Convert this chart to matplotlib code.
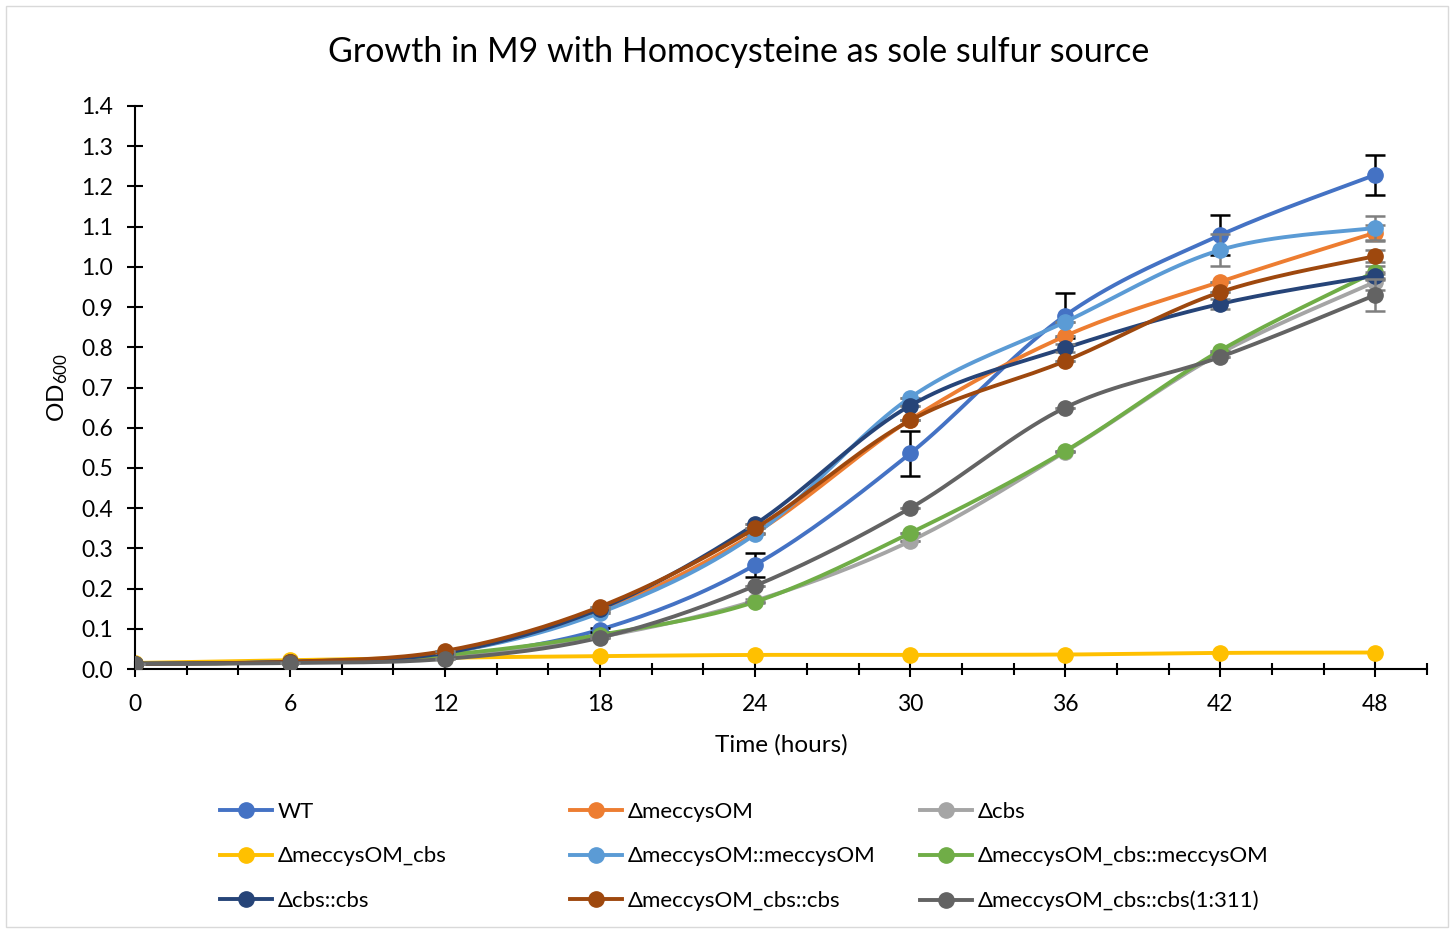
import numpy as np
import matplotlib
matplotlib.use('Agg')
import matplotlib.pyplot as plt
from matplotlib.patches import Rectangle

plt.rcParams['font.family'] = ['Lato', 'DejaVu Sans']

# data
hours = [0, 6, 12, 18, 24, 30, 36, 42, 48]

names = ['WT', 'ΔmeccysOM', 'Δcbs', 'ΔmeccysOM_cbs', 'ΔmeccysOM::meccysOM',
         'ΔmeccysOM_cbs::meccysOM', 'Δcbs::cbs', 'ΔmeccysOM_cbs::cbs',
         'ΔmeccysOM_cbs::cbs(1:311)']

wt = [0.013, 0.018, 0.030, 0.098, 0.259, 0.536, 0.879, 1.079, 1.229]
meccysOM = [0.013, 0.020, 0.040, 0.145, 0.338, 0.620, 0.828, 0.963, 1.085]
cbs = [0.013, 0.018, 0.030, 0.080, 0.170, 0.318, 0.540, 0.785, 0.963]
meccysOM_cbs = [0.015, 0.022, 0.028, 0.032, 0.035, 0.035, 0.036, 0.040, 0.041]
meccysOM_comp = [0.013, 0.018, 0.040, 0.140, 0.335, 0.675, 0.863, 1.042, 1.097]
meccysOM_cbs_comp = [0.013, 0.017, 0.035, 0.085, 0.167, 0.338, 0.542, 0.792, 0.988]
cbs_comp = [0.013, 0.018, 0.040, 0.150, 0.360, 0.655, 0.798, 0.908, 0.978]
meccysOM_cbs_cbs = [0.013, 0.018, 0.045, 0.155, 0.350, 0.618, 0.766, 0.937, 1.027]
meccysOM_cbs_cbs311 = [0.013, 0.015, 0.025, 0.078, 0.207, 0.400, 0.650, 0.776, 0.930]

wt_err = [0.0, 0.0, 0.0, 0.005, 0.030, 0.055, 0.057, 0.050, 0.050]
meccysOM_err = [0.0, 0.0, 0.0, 0.0, 0.0, 0.0, 0.0, 0.0, 0.020]
cbs_err = [0.0, 0.0, 0.0, 0.0, 0.005, 0.0, 0.0, 0.0, 0.020]
meccysOM_cbs_err = [0.0, 0.0, 0.0, 0.0, 0.0, 0.0, 0.0, 0.0, 0.0]
meccysOM_comp_err = [0.0, 0.0, 0.0, 0.0, 0.0, 0.0, 0.0, 0.040, 0.030]
meccysOM_cbs_comp_err = [0.0, 0.0, 0.0, 0.0, 0.0, 0.0, 0.0, 0.0, 0.015]
cbs_comp_err = [0.0, 0.0, 0.0, 0.0, 0.0, 0.0, 0.010, 0.012, 0.010]
meccysOM_cbs_cbs_err = [0.0, 0.0, 0.0, 0.0, 0.0, 0.0, 0.0, 0.0, 0.015]
meccysOM_cbs_cbs311_err = [0.0, 0.0, 0.0, 0.0, 0.0, 0.0, 0.0, 0.0, 0.040]

series = [wt, meccysOM, cbs, meccysOM_cbs, meccysOM_comp,
          meccysOM_cbs_comp, cbs_comp, meccysOM_cbs_cbs, meccysOM_cbs_cbs311]
errors = [wt_err, meccysOM_err, cbs_err, meccysOM_cbs_err, meccysOM_comp_err,
          meccysOM_cbs_comp_err, cbs_comp_err, meccysOM_cbs_cbs_err,
          meccysOM_cbs_cbs311_err]
colors = ['#4472c4', '#ed7d31', '#a5a5a5', '#ffc000', '#5b9bd5',
          '#70ad47', '#264478', '#9e480e', '#636363']
err_colors = ['black'] + ['#7f7f7f'] * 8


def smooth(x, y, n=20):
    # catmull-rom curve through the points, like excel's smoothed line
    x = np.asarray(x, float)
    y = np.asarray(y, float)
    px = np.concatenate([[x[0]], x, [x[-1]]])
    py = np.concatenate([[y[0]], y, [y[-1]]])
    xs, ys = [], []
    t = np.linspace(0, 1, n)
    for i in range(1, len(px) - 2):
        p0, p1, p2, p3 = (px[i-1], py[i-1]), (px[i], py[i]), (px[i+1], py[i+1]), (px[i+2], py[i+2])
        c1 = (p1[0] + (p2[0] - p0[0]) / 6, p1[1] + (p2[1] - p0[1]) / 6)
        c2 = (p2[0] - (p3[0] - p1[0]) / 6, p2[1] - (p3[1] - p1[1]) / 6)
        bx = (1-t)**3*p1[0] + 3*(1-t)**2*t*c1[0] + 3*(1-t)*t**2*c2[0] + t**3*p2[0]
        by = (1-t)**3*p1[1] + 3*(1-t)**2*t*c1[1] + 3*(1-t)*t**2*c2[1] + t**3*p2[1]
        xs.extend(bx)
        ys.extend(by)
    return np.array(xs), np.array(ys)


fig = plt.figure(figsize=(14.54, 9.31), dpi=100)
ax = fig.add_axes([135/1454, 1 - 669/931, (1427-135)/1454, (669-106)/931])

handles = []
for i in range(len(series)):
    sx, sy = smooth(hours, series[i])
    ax.plot(sx, sy, color=colors[i], lw=2.8, zorder=2+i*0.1, solid_capstyle='round')
    e = np.array(errors[i])
    if e.max() > 0:
        ax.errorbar(hours, series[i], yerr=e, fmt='none', ecolor=err_colors[i],
                    elinewidth=1.8, capsize=7, capthick=1.8, zorder=2+i*0.1)
    ax.plot(hours, series[i], 'o', color=colors[i], ms=11, zorder=2.05+i*0.1)
    h, = plt.plot([], [], '-o', color=colors[i], lw=2.8, ms=11)
    handles.append(h)

ax.set_xlim(0, 50)
ax.set_ylim(0, 1.4)
ax.set_xticks(np.arange(0, 49, 6))
ax.set_xticks(np.arange(0, 51, 2), minor=True)
ax.set_yticks(np.arange(0, 1.41, 0.1))
ax.set_yticklabels(['%.1f' % v for v in np.arange(0, 1.41, 0.1)])
ax.tick_params(axis='both', which='major', direction='inout', length=12, width=1.5,
               labelsize=16.5, colors='black')
ax.tick_params(axis='x', which='minor', direction='inout', length=8, width=1.5)
ax.tick_params(axis='x', pad=12)
ax.tick_params(axis='y', pad=10)
for s in ['top', 'right']:
    ax.spines[s].set_visible(False)
for s in ['left', 'bottom']:
    ax.spines[s].set_linewidth(1.5)

ax.set_xlabel('Time (hours)', fontsize=17.5, labelpad=14)
ax.set_ylabel(r'$\mathregular{OD_{600}}$', fontsize=17.5, labelpad=8)
fig.text(0.508, 0.944, 'Growth in M9 with Homocysteine as sole sulfur source',
         ha='center', va='center', fontsize=24.5)

# one legend per column so each column starts where it does in the chart
col_x = [220, 570, 920]
for c in range(3):
    idx = [c, c + 3, c + 6]
    leg = fig.legend([handles[k] for k in idx], [names[k] for k in idx],
                     loc='upper left', bbox_to_anchor=(col_x[c] / 1454, 1 - 802 / 931),
                     frameon=False, fontsize=16, handlelength=2.35,
                     handletextpad=0.25, labelspacing=1.1, borderpad=0,
                     borderaxespad=0)

fig.patches.append(Rectangle((0.004, 0.004), 0.992, 0.99, transform=fig.transFigure,
                             fill=False, edgecolor='#d9d9d9', lw=1))

fig.savefig('out.png', dpi=100)
